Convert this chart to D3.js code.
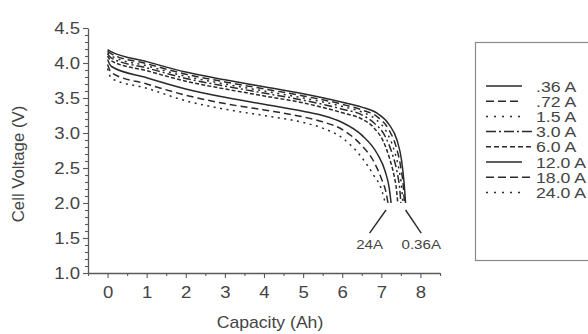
<!DOCTYPE html>
<html>
<head>
<meta charset="utf-8">
<script src="https://cdn.jsdelivr.net/npm/d3@7"></script>
<style>
  html, body { margin: 0; padding: 0; background: #fff; }
  svg { display: block; font-family: "Liberation Sans", Arial, Helvetica, sans-serif; }
</style>
</head>
<body>
<svg id="chart" width="588" height="334"></svg>
<script>
// Discharge curves of a cell at eight constant currents: [capacity Ah, voltage V]
const curve036 = [[0,4.19],[0.1,4.16],[1,4.02],[2,3.87],[3,3.76],[4,3.66],[5,3.56],[6,3.44],[6.5,3.37],[6.9,3.28],[7.2,3.12],[7.4,2.9],[7.52,2.6],[7.58,2.3],[7.62,2.0]];
const curve072 = [[0,4.17],[0.1,4.13],[1,3.99],[2,3.84],[3,3.73],[4,3.63],[5,3.53],[6,3.41],[6.5,3.33],[6.9,3.23],[7.2,3.04],[7.38,2.8],[7.5,2.5],[7.56,2.25],[7.59,2.0]];
const curve15  = [[0,4.15],[0.1,4.10],[1,3.96],[2,3.81],[3,3.70],[4,3.60],[5,3.50],[6,3.38],[6.5,3.30],[6.85,3.2],[7.15,3.0],[7.33,2.75],[7.45,2.48],[7.52,2.22],[7.55,2.0]];
const curve30  = [[0,4.13],[0.1,4.07],[1,3.93],[2,3.78],[3,3.67],[4,3.57],[5,3.47],[6,3.34],[6.5,3.26],[6.8,3.15],[7.1,2.95],[7.28,2.7],[7.4,2.45],[7.47,2.2],[7.5,2.0]];
const curve60  = [[0,4.10],[0.1,4.03],[1,3.89],[2,3.74],[3,3.63],[4,3.53],[5,3.43],[6,3.29],[6.5,3.2],[6.8,3.08],[7.05,2.88],[7.22,2.62],[7.33,2.38],[7.39,2.18],[7.42,2.0]];
const curve120 = [[0,4.05],[0.1,3.95],[1,3.79],[2,3.63],[3,3.51],[4,3.41],[5,3.31],[5.5,3.25],[6,3.15],[6.5,2.97],[6.9,2.7],[7.1,2.45],[7.2,2.22],[7.25,2.0]];
const curve180 = [[0,3.98],[0.1,3.86],[1,3.70],[2,3.54],[3,3.42],[4,3.33],[5,3.23],[5.5,3.16],[6,3.05],[6.5,2.82],[6.8,2.6],[7.0,2.35],[7.12,2.15],[7.17,2.0]];
const curve240 = [[0,3.92],[0.1,3.78],[1,3.64],[2,3.46],[3,3.34],[4,3.25],[5,3.15],[5.5,3.07],[6,2.93],[6.5,2.65],[6.8,2.4],[7.0,2.2],[7.1,2.0]];

const currentLabels = [".36 A", ".72 A", "1.5 A", "3.0 A", "6.0 A", "12.0 A", "18.0 A", "24.0 A"];
const curves = [curve036, curve072, curve15, curve30, curve60, curve120, curve180, curve240];

const capacityTicks = [0, 1, 2, 3, 4, 5, 6, 7, 8];
const voltageTicks = [1.0, 1.5, 2.0, 2.5, 3.0, 3.5, 4.0, 4.5];

// Call-outs marking the end points of the highest and lowest current curves
const calloutLabels = ["24A", "0.36A"];
const calloutFrom = [[7.12, 1.9], [7.62, 1.9]];
const calloutTo = [[6.7, 1.57], [8.02, 1.57]];

// ---- styling ----
const ink = "#2a2a2a";
const axisInk = "#5a5a5a";
const textInk = "#444";
const stretch = 1.16;   // type is set slightly wide
const dashStyles = [null, "7,4", "2,4.5", "8,3,2,3", "4,2.2", null, "7,4", "2,4.5"];
const legendDashes = [null, "8,4", "2,6", "10,3,2,3", "5,3", null, "8,4", "2,6"];

const svg = d3.select("#chart");

const x = d3.scaleLinear().domain([-0.5, 8.5]).range([88, 440]);
const y = d3.scaleLinear().domain([1.0, 4.5]).range([273, 28]);

// minor ticks
const xMinor = d3.range(-0.5, 8.51, 1);
const yMinor = d3.range(10, 46, 1).map(v => v / 10).filter(v => !voltageTicks.some(t => Math.abs(t - v) < 1e-6));

const xAxisG = svg.append("g").attr("transform", `translate(0,${y(1.0)})`);
xAxisG.call(d3.axisBottom(x).tickValues(xMinor).tickSize(3).tickSizeOuter(0).tickFormat(""));
xAxisG.append("g").call(d3.axisBottom(x).tickValues(capacityTicks).tickSize(5).tickSizeOuter(0).tickPadding(9).tickFormat(d3.format("d")))
  .select(".domain").remove();

const yAxisG = svg.append("g").attr("transform", `translate(${x(-0.5)},0)`);
yAxisG.call(d3.axisLeft(y).tickValues(yMinor).tickSize(3).tickSizeOuter(0).tickFormat(""));
yAxisG.append("g").attr("class", "ymajor")
  .call(d3.axisLeft(y).tickValues(voltageTicks).tickSize(5).tickSizeOuter(0).tickPadding(3).tickFormat(d3.format(".1f")))
  .select(".domain").remove();

svg.selectAll(".domain").attr("stroke", axisInk).attr("stroke-width", 1.3);
svg.selectAll(".tick line").attr("stroke", axisInk).attr("stroke-width", 1.1);
svg.selectAll(".tick text")
  .attr("fill", textInk).attr("font-size", 16)
  .attr("font-family", "Liberation Sans, Arial, sans-serif")
  .attr("transform", `scale(${stretch},1)`);
svg.selectAll(".ymajor .tick text").attr("x", -8 / stretch);

// axis titles
svg.append("text")
  .attr("transform", `translate(270,328) scale(1.1,1)`)
  .attr("text-anchor", "middle")
  .attr("font-size", 16).attr("fill", textInk)
  .text("Capacity (Ah)");

svg.append("text")
  .attr("transform", `translate(24,164) rotate(-90) scale(1.05,1)`)
  .attr("text-anchor", "middle")
  .attr("font-size", 16).attr("fill", textInk)
  .text("Cell Voltage (V)");

// curves
const line = d3.line().x(d => x(d[0])).y(d => y(d[1])).curve(d3.curveMonotoneX);
svg.append("g").selectAll("path")
  .data(curves)
  .join("path")
  .attr("d", line)
  .attr("fill", "none")
  .attr("stroke", ink)
  .attr("stroke-width", 1.5)
  .attr("stroke-dasharray", (d, i) => dashStyles[i]);

// call-outs
calloutLabels.forEach((lab, i) => {
  svg.append("line")
    .attr("x1", x(calloutFrom[i][0])).attr("y1", y(calloutFrom[i][1]))
    .attr("x2", x(calloutTo[i][0])).attr("y2", y(calloutTo[i][1]))
    .attr("stroke", ink).attr("stroke-width", 1.4);
  svg.append("text")
    .attr("transform", `translate(${x(calloutTo[i][0])},${y(calloutTo[i][1]) + 16}) scale(1.12,1)`)
    .attr("text-anchor", "middle")
    .attr("font-size", 13.5).attr("fill", textInk)
    .text(lab);
});

// legend
const legend = svg.append("g");
legend.append("rect")
  .attr("x", 475.5).attr("y", 42.5).attr("width", 140).attr("height", 218)
  .attr("fill", "none").attr("stroke", "#8a8a8a").attr("stroke-width", 1.2);

const rowY = i => 86 + i * 15.2;
currentLabels.forEach((lab, i) => {
  legend.append("line")
    .attr("x1", 486).attr("x2", (i === 4 || i === 6 || i === 3) ? 533 : 522)
    .attr("y1", rowY(i)).attr("y2", rowY(i))
    .attr("stroke", ink).attr("stroke-width", 1.5)
    .attr("stroke-dasharray", legendDashes[i]);
  legend.append("text")
    .attr("transform", `translate(536,${rowY(i) + 5.5}) scale(1.22,1)`)
    .attr("font-size", 14.5).attr("fill", textInk)
    .text(lab);
});
</script>
</body>
</html>
